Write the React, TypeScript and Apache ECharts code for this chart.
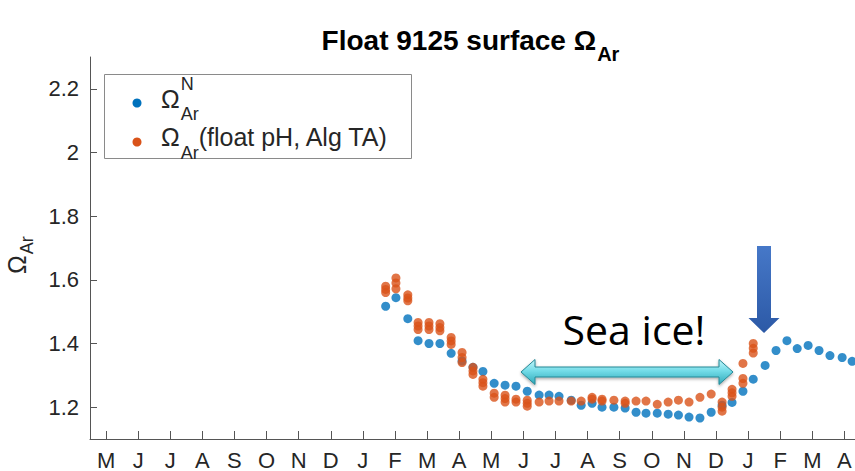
import React, { useEffect, useRef } from 'react';
import * as echarts from 'echarts';

// ---------- data ----------
const monthLabels = ['M', 'J', 'J', 'A', 'S', 'O', 'N', 'D', 'J', 'F', 'M', 'A', 'M', 'J', 'J', 'A', 'S', 'O', 'N', 'D', 'J', 'F', 'M', 'A'];
const monthTicks = monthLabels.map((_, i) => i);
const yTicks = [1.2, 1.4, 1.6, 1.8, 2, 2.2];

// profile times, in months after the first "M" tick
const profileMonths = [
  8.71, 9.03, 9.4, 9.72, 10.06, 10.4, 10.75, 11.09, 11.43, 11.74, 12.09, 12.43, 12.77, 13.12, 13.49,
  13.8, 14.11, 14.49, 14.8, 15.14, 15.45, 15.82, 16.17, 16.51, 16.82, 17.17, 17.51, 17.83, 18.16,
  18.5, 18.85, 19.19, 19.5, 19.84, 20.16, 20.53, 20.87, 21.21, 21.53, 21.87, 22.21, 22.55, 22.93, 23.24,
];

// Omega_Ar^N (blue)
const omegaN = [
  1.517, 1.544, 1.478, 1.409, 1.4, 1.4, 1.369, 1.345, 1.325, 1.312, 1.275, 1.269, 1.266, 1.25, 1.238,
  1.238, 1.234, 1.222, 1.206, 1.212, 1.2, 1.2, 1.197, 1.184, 1.181, 1.181, 1.178, 1.175, 1.169,
  1.166, 1.184, 1.206, 1.215, 1.25, 1.288, 1.331, 1.378, 1.409, 1.384, 1.394, 1.378, 1.362, 1.356, 1.344,
];

// Omega_Ar (float pH, Alg TA) (orange), several near-surface values per profile
const omegaFloat: number[][] = [
  [1.58, 1.57, 1.56],
  [1.606, 1.59, 1.572],
  [1.553, 1.543, 1.534],
  [1.466, 1.455, 1.444],
  [1.466, 1.455, 1.444],
  [1.462, 1.45, 1.44],
  [1.419, 1.408, 1.397],
  [1.372, 1.356, 1.34],
  [1.325, 1.314, 1.303],
  [1.2875, 1.277, 1.266],
  [1.244, 1.231],
  [1.2375, 1.227, 1.216],
  [1.225, 1.216],
  [1.222, 1.212, 1.203],
  [1.216],
  [1.219],
  [1.219],
  [1.219],
  [1.219],
  [1.231, 1.225],
  [1.225, 1.219],
  [1.222],
  [1.219, 1.212],
  [1.219],
  [1.219],
  [1.209],
  [1.216],
  [1.222],
  [1.216],
  [1.231],
  [1.241],
  [1.216, 1.2, 1.1875],
  [1.256, 1.245, 1.234],
  [1.3375, 1.29, 1.275],
  [1.4, 1.385, 1.37],
];

const BLUE = '#0072BD';
const ORANGE = '#D95319';
const FONT = '"Liberation Sans", Arial, Helvetica, sans-serif';
const TEXT = '#262626';

function textWidth(text: string, font: string): number {
  const ctx = document.createElement('canvas').getContext('2d');
  if (!ctx) return text.length * 10;
  ctx.font = font;
  return ctx.measureText(text).width;
}

function txt(text: string, x: number, y: number, font: string, fill = TEXT, align = 'left') {
  return {
    type: 'text',
    x,
    y,
    z: 20,
    style: { text, font, fill, align, textAlign: align, verticalAlign: 'middle', textVerticalAlign: 'middle' },
  };
}

export default function App() {
  const ref = useRef<HTMLDivElement>(null);

  useEffect(() => {
    if (!ref.current) return;
    const chart = echarts.init(ref.current, undefined, { renderer: 'svg', width: 855, height: 471 });

    const blueData = profileMonths.map((m, i) => [m, omegaN[i]]);
    const orangeData: number[][] = [];
    omegaFloat.forEach((vals, i) => vals.forEach((v) => orangeData.push([profileMonths[i], v])));

    // title
    const titleMain = 'Float 9125 surface Ω';
    const titleFont = `bold 28px ${FONT}`;
    const titleSubFont = `bold 20px ${FONT}`;
    const wMain = textWidth(titleMain, titleFont);
    const wSub = textWidth('Ar', titleSubFont);
    const titleLeft = 470 - (wMain + wSub) / 2;

    // legend
    const legFont = `25px ${FONT}`;
    const legSubFont = `18px ${FONT}`;
    const wOmega = textWidth('Ω', legFont);
    const wAr = textWidth('Ar', legSubFont);
    const legX = 161;

    // y axis name
    const yNameFont = `25px ${FONT}`;
    const wOmegaY = textWidth('Ω', yNameFont);

    const cyanGrad = new echarts.graphic.LinearGradient(0, 0, 0, 1, [
      { offset: 0, color: '#c4f6fa' },
      { offset: 0.45, color: '#74dce8' },
      { offset: 1, color: '#2fa9b9' },
    ]);
    const blueGrad = new echarts.graphic.LinearGradient(0, 0, 0, 1, [
      { offset: 0, color: '#4678c8' },
      { offset: 1, color: '#2c59a6' },
    ]);

    chart.setOption({
      animation: false,
      backgroundColor: '#ffffff',
      grid: { left: 90, top: 57, right: 0, bottom: 30, containLabel: false },
      xAxis: {
        type: 'value',
        min: -0.5,
        max: 23.33,
        splitLine: { show: false },
        axisLine: { show: true, onZero: false, lineStyle: { color: '#555555', width: 1 } },
        axisTick: { show: true, inside: true, length: 8, customValues: monthTicks, lineStyle: { color: '#555555' } },
        axisLabel: {
          customValues: monthTicks,
          formatter: (v: number) => monthLabels[Math.round(v)] ?? '',
          color: TEXT,
          fontFamily: FONT,
          fontSize: 22,
          margin: 10,
        },
      },
      yAxis: {
        type: 'value',
        min: 1.1,
        max: 2.3,
        splitLine: { show: false },
        axisLine: { show: true, onZero: false, lineStyle: { color: '#555555', width: 1 } },
        axisTick: { show: true, inside: true, length: 7, customValues: yTicks, lineStyle: { color: '#555555' } },
        axisLabel: {
          customValues: yTicks,
          color: TEXT,
          fontFamily: FONT,
          fontSize: 22,
          margin: 11,
        },
      },
      series: [
        {
          name: 'Ω_Ar^N',
          type: 'scatter',
          data: blueData,
          symbol: 'circle',
          symbolSize: 9,
          itemStyle: { color: BLUE },
          z: 2,
        },
        {
          name: 'Ω_Ar(float pH, Alg TA)',
          type: 'scatter',
          data: orangeData,
          symbol: 'circle',
          symbolSize: 9,
          itemStyle: { color: ORANGE },
          z: 3,
        },
      ],
      graphic: [
        // title
        txt(titleMain, titleLeft, 40, titleFont, '#000000'),
        txt('Ar', titleLeft + wMain + 1, 54, titleSubFont, '#000000'),
        // y-axis name
        {
          type: 'group',
          x: 17,
          y: 274,
          rotation: Math.PI / 2,
          children: [
            txt('Ω', 0, 0, yNameFont),
            txt('Ar', wOmegaY + 1, 10, `18px ${FONT}`),
          ],
        },
        // legend box
        {
          type: 'rect',
          z: 15,
          shape: { x: 104.5, y: 74.5, width: 307, height: 84 },
          style: { fill: '#ffffff', stroke: '#8a8a8a', lineWidth: 1 },
        },
        { type: 'circle', z: 20, shape: { cx: 137, cy: 103, r: 4.5 }, style: { fill: BLUE } },
        { type: 'circle', z: 20, shape: { cx: 137, cy: 142, r: 4.5 }, style: { fill: ORANGE } },
        txt('Ω', legX, 98.5, legFont),
        txt('N', legX + wOmega + 1, 84, legSubFont),
        txt('Ar', legX + wOmega + 1, 114, legSubFont),
        txt('Ω', legX, 136.5, legFont),
        txt('Ar', legX + wOmega + 1, 153, legSubFont),
        txt('(float pH, Alg TA)', legX + wOmega + 1 + wAr, 137, legFont),
        // sea ice double arrow
        {
          type: 'polygon',
          z: 10,
          shape: {
            points: [
              [521, 372], [535, 359.5], [535, 367], [719, 367], [719, 359.5], [733, 372],
              [719, 384.5], [719, 377], [535, 377], [535, 384.5],
            ],
          },
          style: {
            fill: cyanGrad,
            stroke: '#268896',
            lineWidth: 1,
            shadowBlur: 3,
            shadowColor: 'rgba(0,0,0,0.35)',
            shadowOffsetY: 1.5,
          },
        },
        txt('Sea ice!', 634, 329, `41px "Open Sans", "Noto Sans", sans-serif`, '#000000', 'center'),
        // down arrow
        {
          type: 'polygon',
          z: 10,
          shape: {
            points: [
              [757, 246], [771, 246], [771, 318], [779.5, 318], [764, 333], [748.5, 318], [757, 318],
            ],
          },
          style: { fill: blueGrad },
        },
      ],
    });

    return () => chart.dispose();
  }, []);

  return (
    <div
      ref={ref}
      style={{ position: 'fixed', left: 0, top: 0, width: 855, height: 471, background: '#ffffff' }}
    />
  );
}
